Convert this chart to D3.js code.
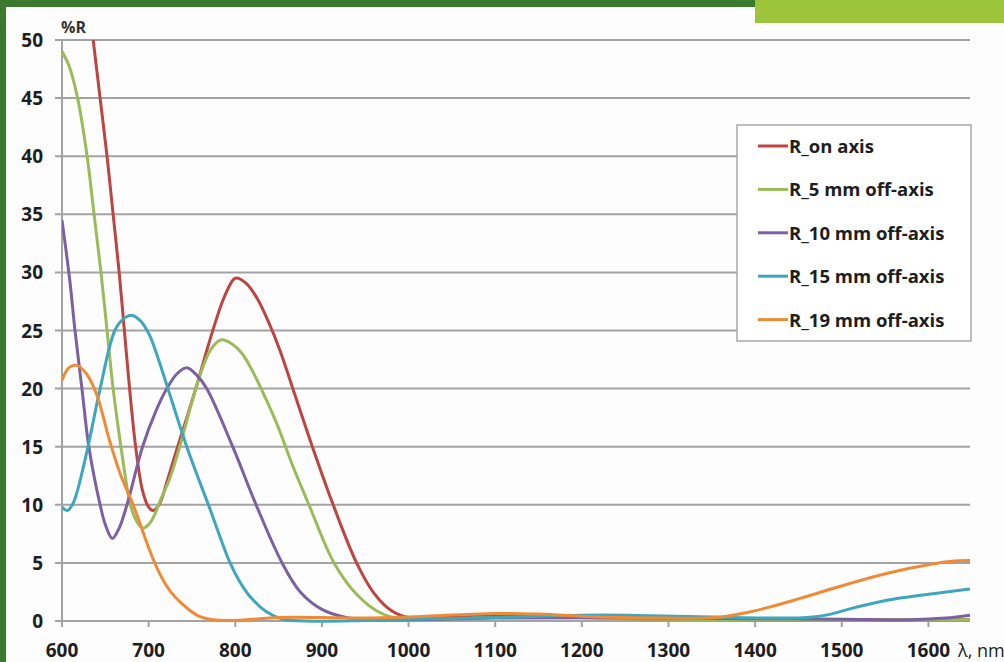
<!DOCTYPE html>
<html lang="en">
<head>
  <meta charset="UTF-8">
  <title>%R vs wavelength</title>
  <script src="https://cdn.jsdelivr.net/npm/d3@7"></script>
  <style>
    body { margin: 0; background: #fff; }
    svg { display: block; }
  </style>
</head>
<body>
<script>
  const svgWidth = 1004
  const svgHeight = 662

  // data: [wavelength nm, %R]
  const onAxis = [[628, 55], [636, 50], [644, 45], [652, 40], [659, 35], [666, 30], [672, 25], [678, 20], [685, 15],
    [693, 11.2], [700, 9.8], [705, 9.5], [712, 10], [722, 12.2], [733, 14.9], [745, 17.7], [756, 20.4], [766, 23],
    [777, 25.7], [788, 28], [800, 29.5], [812, 29.1], [825, 27.8], [838, 25.8], [852, 23.2], [866, 20.1], [889, 15],
    [913, 10], [940, 5], [960, 2.4], [980, 0.9], [1000, 0.3], [1050, 0.35], [1100, 0.45], [1150, 0.4], [1200, 0.3],
    [1300, 0.15], [1400, 0.1], [1500, 0.1], [1600, 0.1], [1648, 0.1]]
  const off5 = [[600, 49], [608, 47.8], [618, 45], [629, 40], [637, 35], [645, 30], [652, 25], [659, 20], [668, 15],
    [679, 10], [686, 8.6], [693, 8], [700, 8.3], [706, 9], [713, 10.3], [725, 12.4], [737, 15.3], [749, 18.6],
    [760, 21.3], [772, 23.4], [784, 24.2], [795, 23.9], [808, 23], [822, 21.2], [836, 19], [850, 16.6], [865, 13.6],
    [885, 10], [914, 5], [940, 2.3], [965, 0.8], [990, 0.2], [1100, 0.3], [1200, 0.25], [1300, 0.15], [1400, 0.1],
    [1500, 0.1], [1600, 0.1], [1648, 0.1]]
  const off10 = [[600, 34.5], [609, 29.3], [615, 25], [623, 20], [631, 15], [644, 10], [650, 8.3], [658, 7.1],
    [666, 8], [675, 10], [693, 15], [708, 18], [721, 20], [733, 21.3], [744, 21.8], [755, 21.2], [767, 20],
    [797, 15], [824, 10], [854, 5], [875, 2.5], [900, 1], [928, 0.3], [960, 0.1], [1000, 0.1], [1100, 0.25],
    [1200, 0.3], [1300, 0.25], [1400, 0.2], [1500, 0.15], [1580, 0.1], [1620, 0.25], [1648, 0.5]]
  const off15 = [[600, 9.8], [606, 9.5], [612, 10], [617, 11], [630, 15], [644, 20], [661, 25], [671, 26], [681, 26.3],
    [691, 25.8], [701, 24.6], [711, 22.6], [721, 20.3], [744, 15], [770, 9.8], [794, 5], [805, 3.4], [816, 2.2],
    [836, 0.8], [855, 0.15], [880, 0], [950, 0.05], [1000, 0.15], [1100, 0.3], [1200, 0.5], [1250, 0.5],
    [1350, 0.35], [1430, 0.25], [1460, 0.3], [1485, 0.55], [1507, 1.0], [1535, 1.5], [1565, 1.95], [1605, 2.35],
    [1648, 2.75]]
  const off19 = [[600, 20.7], [608, 21.8], [617, 22], [628, 21.3], [640, 19.5], [655, 15.5], [668, 12.5], [680, 10.4],
    [690, 8.4], [700, 6.3], [710, 4.5], [720, 3.1], [730, 2.1], [747, 0.95], [760, 0.35], [774, 0.1], [800, 0.05],
    [850, 0.3], [900, 0.3], [950, 0.25], [1000, 0.35], [1100, 0.65], [1150, 0.6], [1220, 0.35], [1300, 0.25],
    [1354, 0.3], [1395, 0.8], [1450, 1.9], [1508, 3.2], [1564, 4.3], [1622, 5.1], [1648, 5.2]]

  const seriesNames = ['R_on axis', 'R_5 mm off-axis', 'R_10 mm off-axis', 'R_15 mm off-axis', 'R_19 mm off-axis']
  const seriesData = [onAxis, off5, off10, off15, off19]
  const seriesColors = ['#bc4542', '#9bbb59', '#7b61a0', '#3ea6bd', '#ef8b36']
  const xTicks = [600, 700, 800, 900, 1000, 1100, 1200, 1300, 1400, 1500, 1600]
  const yTicks = [0, 5, 10, 15, 20, 25, 30, 35, 40, 45, 50]

  const svg = d3.select('body').append('svg')
    .attr('width', svgWidth)
    .attr('height', svgHeight)

  // frame of the slide
  svg.append('rect').attr('width', svgWidth).attr('height', svgHeight).attr('fill', '#fdfdfd')
  svg.append('rect').attr('x', 0).attr('y', 0).attr('width', 755).attr('height', 7).attr('fill', '#3b7a2e')
  svg.append('rect').attr('x', 0).attr('y', 0).attr('width', 6).attr('height', svgHeight).attr('fill', '#3b7a2e')
  svg.append('rect').attr('x', 755).attr('y', 0).attr('width', svgWidth - 755).attr('height', 23).attr('fill', '#9dc53b')

  const x = d3.scaleLinear().domain([600, 1648]).range([62, 970])
  const y = d3.scaleLinear().domain([0, 50]).range([621, 40])

  const font = '"Open Sans", "DejaVu Sans", sans-serif'

  // horizontal grid
  svg.append('g')
    .selectAll('line')
    .data(yTicks)
    .join('line')
    .attr('x1', 55).attr('x2', 970)
    .attr('y1', d => y(d)).attr('y2', d => y(d))
    .attr('stroke', '#a3a3a3').attr('stroke-width', 2)

  // y axis line
  svg.append('line')
    .attr('x1', x(600)).attr('x2', x(600))
    .attr('y1', y(50)).attr('y2', y(0) + 6)
    .attr('stroke', '#a3a3a3').attr('stroke-width', 2)

  // x tick marks
  svg.append('g')
    .selectAll('line')
    .data(xTicks)
    .join('line')
    .attr('x1', d => x(d)).attr('x2', d => x(d))
    .attr('y1', y(0)).attr('y2', y(0) + 6)
    .attr('stroke', '#a3a3a3').attr('stroke-width', 2)

  svg.append('g')
    .selectAll('text')
    .data(yTicks)
    .join('text')
    .attr('x', 43).attr('y', d => y(d) + 7)
    .attr('text-anchor', 'end')
    .attr('font-family', font).attr('font-weight', 700).attr('font-size', 19)
    .attr('fill', '#1e1e1e')
    .text(d => d)

  svg.append('g')
    .selectAll('text')
    .data(xTicks)
    .join('text')
    .attr('x', d => x(d)).attr('y', 657)
    .attr('text-anchor', 'middle')
    .attr('font-family', font).attr('font-weight', 700).attr('font-size', 19)
    .attr('fill', '#1e1e1e')
    .text(d => d)

  svg.append('text')
    .attr('x', 61).attr('y', 33)
    .attr('font-family', font).attr('font-weight', 700).attr('font-size', 16)
    .attr('fill', '#333')
    .text('%R')

  svg.append('text')
    .attr('x', 958).attr('y', 657)
    .attr('font-family', font).attr('font-size', 18)
    .attr('fill', '#1e1e1e')
    .text('λ, nm')

  // curves
  svg.append('clipPath').attr('id', 'plot')
    .append('rect').attr('x', 62).attr('y', 40).attr('width', 908).attr('height', 590)

  const line = d3.line()
    .x(d => x(d[0]))
    .y(d => y(d[1]))
    .curve(d3.curveCatmullRom.alpha(0.5))

  svg.append('g')
    .attr('clip-path', 'url(#plot)')
    .selectAll('path')
    .data(seriesData)
    .join('path')
    .attr('d', d => line(d))
    .attr('fill', 'none')
    .attr('stroke', (d, i) => seriesColors[i])
    .attr('stroke-width', 3)
    .attr('stroke-linejoin', 'round')

  // legend
  const legend = svg.append('g')
  legend.append('rect')
    .attr('x', 737).attr('y', 125).attr('width', 234).attr('height', 216)
    .attr('fill', '#fff').attr('stroke', '#a8a8a8').attr('stroke-width', 1.5)

  const items = legend.selectAll('g')
    .data(seriesNames)
    .join('g')
    .attr('transform', (d, i) => `translate(758,${146 + i * 43.4})`)

  items.append('line')
    .attr('x1', 0).attr('x2', 30)
    .attr('stroke', (d, i) => seriesColors[i])
    .attr('stroke-width', 3)

  items.append('text')
    .attr('x', 31).attr('y', 7)
    .attr('font-family', font).attr('font-weight', 700).attr('font-size', 18.5)
    .attr('fill', '#1e1e1e')
    .text(d => d)
</script>
</body>
</html>
